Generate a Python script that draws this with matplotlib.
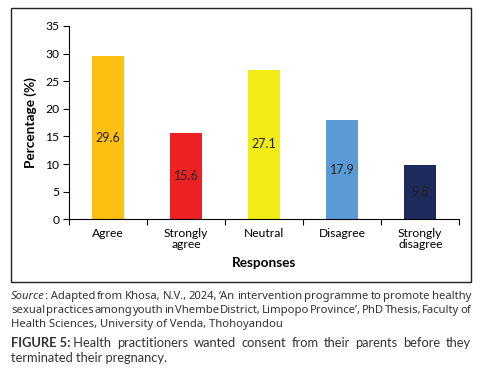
import matplotlib
matplotlib.use("Agg")
import matplotlib.pyplot as plt
from matplotlib.patches import Rectangle

categories = ["Agree", "Strongly\nagree", "Neutral", "Disagree", "Strongly\ndisagree"]
values = [29.6, 15.6, 27.1, 17.9, 9.8]
colors = ["#FDC010", "#ED2024", "#F3EB14", "#5B9BD5", "#1F2A5C"]
yticks = [0, 5, 10, 15, 20, 25, 30, 35]

plt.rcParams['font.family'] = ['Lato', 'DejaVu Sans']

fig = plt.figure(figsize=(4.99, 3.86), dpi=100)
ax = fig.add_axes([69/499, 1-219.3/386, (459.3-69)/499, (219.3-26)/386])

x = list(range(len(values)))
ax.bar(x, values, width=0.41, color=colors)
for xi, v in zip(x, values):
    ax.text(xi, v/2, f"{v}", ha="center", va="center", fontsize=9, color="#222222")

ax.set_xlim(-0.5, len(values)-0.5)
ax.set_ylim(0, 35)
ax.set_yticks(yticks)
ax.set_xticks(x)
ax.set_xticklabels(categories, fontsize=8.7, linespacing=1.05)
ax.set_xticks([i-0.5 for i in range(len(values)+1)], minor=True)
ax.tick_params(axis='x', which='major', length=0, pad=6)
ax.tick_params(axis='x', which='minor', length=4, width=0.8, direction='out')
ax.tick_params(axis='y', length=4, width=0.8, labelsize=8.7, pad=3)
for s in ['top', 'right']:
    ax.spines[s].set_visible(False)
for s in ['left', 'bottom']:
    ax.spines[s].set_linewidth(0.8)
ax.set_ylabel("Percentage (%)", fontsize=9.8, fontweight='bold', labelpad=6)
ax.set_xlabel("Responses", fontsize=9.8, fontweight='bold', labelpad=5)

# border box
fig.add_artist(Rectangle((10.5/499, 1-282/386), (471-10.5)/499, (282-8)/386,
                         transform=fig.transFigure, fill=False, edgecolor='#222222', linewidth=1.0))

cap_color = "#333333"
renderer = fig.canvas.get_renderer()
W, H = 499.0, 386.0


def text_width(s, fs, family, **kw):
    t = fig.text(0, 0, s, fontsize=fs, family=family, **kw)
    w = t.get_window_extent(renderer).width
    t.remove()
    return w


def place_line(prefix, prefix_kw, body, x0, x1, y_base, fs, family, justify=True):
    """prefix: leading bit with special style (may be ''); body: plain words."""
    cx = x0
    if prefix:
        fig.text(x0 / W, 1 - y_base / H, prefix, fontsize=fs, family=family, color=cap_color,
                 va='baseline', **prefix_kw)
        pw = text_width(prefix + "x", fs, family, **prefix_kw) - text_width("x", fs, family, **prefix_kw)
        cx = x0 + pw
    if not justify:
        fig.text(cx / W, 1 - y_base / H, body, fontsize=fs, family=family,
                 color=cap_color, va='baseline')
        return
    ws = body.split(' ')
    offs = []
    for i in range(len(ws)):
        s = " ".join(ws[:i + 1])
        offs.append(text_width(s, fs, family) - text_width(ws[i], fs, family))
    total_nat = text_width(" ".join(ws), fs, family)
    extra = ((x1 - cx) - total_nat) / (len(ws) - 1)
    for i, w in enumerate(ws):
        fig.text((cx + offs[i] + extra * i) / W, 1 - y_base / H, w, fontsize=fs, family=family,
                 color=cap_color, va='baseline')


src_family = ['Noto Sans', 'DejaVu Sans']
fs_src = 8.1
place_line("Source", dict(style='italic'),
           ":\u00a0Adapted from Khosa, N.V., 2024, \u2018An intervention programme to promote healthy",
           11, 471, 299, fs_src, src_family)
place_line("", {}, "sexual practices among youth in Vhembe District, Limpopo Province\u2019, PhD Thesis, Faculty of",
           11, 471, 313, fs_src, src_family)
place_line("", {}, "Health Sciences, University of Venda, Thohoyandou",
           11, 471, 326.5, fs_src, src_family, justify=False)

cap_family = ['Lato', 'DejaVu Sans']
fs_cap = 9.3
place_line("FIGURE 5:", dict(fontweight='bold'),
           "\u00a0Health practitioners wanted consent from their parents before they",
           11, 471, 347, fs_cap, cap_family)
place_line("", {}, "terminated their pregnancy.", 11, 471, 362.5, fs_cap, cap_family, justify=False)

fig.savefig("out.png", dpi=100)
